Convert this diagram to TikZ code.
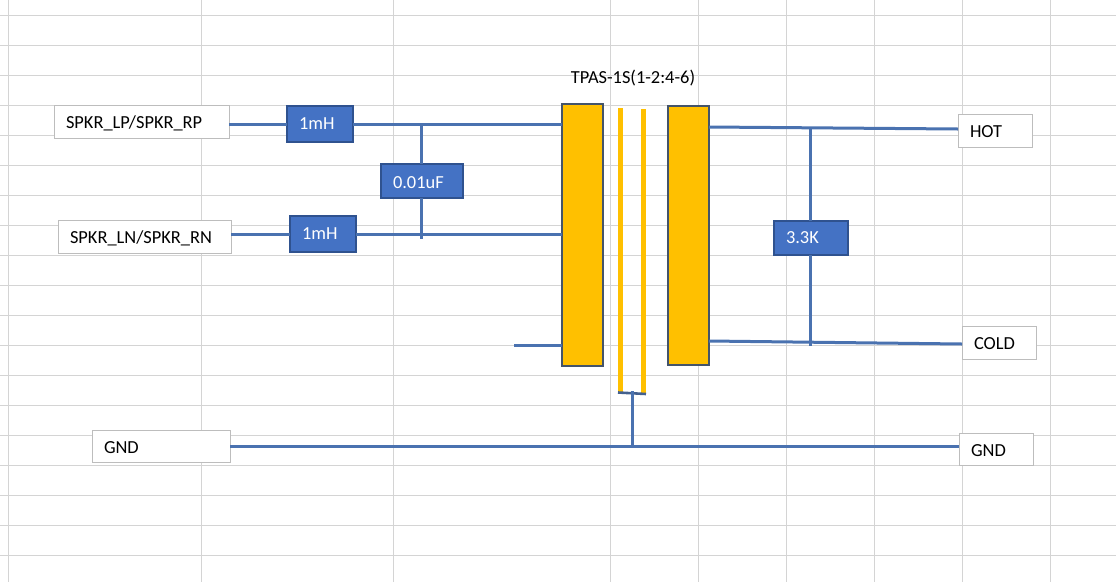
\documentclass[tikz,border=0pt]{standalone}
\usepackage{fontspec}
\setmainfont{Carlito}
\newcommand{\dn}[1]{\raisebox{0pt}[\dimexpr\height+3pt\relax][\depth]{#1}}
\tikzset{
  gridline/.style={draw=gridgray,line width=1pt},
  wire/.style={draw=wireblue,line width=3pt},
  sigbox/.style={draw=boxgray,line width=1pt,fill=white,text=black,anchor=west,inner xsep=12pt,inner ysep=0pt,outer sep=0pt,align=left,font=\fontsize{18.4}{20}\selectfont},
  valbox/.style={draw=bluedark,line width=2pt,fill=blueface,text=white,anchor=west,inner xsep=12pt,inner ysep=0pt,outer sep=0pt,align=left,font=\fontsize{18.4}{20}\selectfont},
  coil/.style={draw=coilborder,line width=2.2pt,fill=coilyellow,anchor=north west,inner sep=0pt,outer sep=0pt},
  corebar/.style={draw=coilyellow,line width=5pt},
  barfoot/.style={draw=wiredark,line width=2.6pt},
}
\definecolor{gridgray}{HTML}{D4D4D4}
\definecolor{wireblue}{HTML}{4A72B0}
\definecolor{wiredark}{HTML}{44618F}
\definecolor{boxgray}{HTML}{BDBDBD}
\definecolor{bluedark}{HTML}{2F528F}
\definecolor{blueface}{HTML}{4472C4}
\definecolor{coilyellow}{HTML}{FFC000}
\definecolor{coilborder}{HTML}{44546A}
\begin{document}
\begin{tikzpicture}[x=1pt,y=-1pt]
\useasboundingbox (0,0) rectangle (1116,582);
\fill[white] (0,0) rectangle (1116,582);
% spreadsheet grid
\foreach \gy in {15,45,...,555} \draw[gridline] (0,\gy) -- (1116,\gy);
\foreach \gx in {8,201,393,610,698,786,874,962,1050} \draw[gridline] (\gx,0) -- (\gx,582);
% signal boxes
\node[sigbox,text width=151pt,minimum height=33pt] (lp) at (54,121.5) {\dn{SPKR\_LP/SPKR\_RP}};
\node[sigbox,text width=149pt,minimum height=33pt] (ln) at (58,236.5) {\dn{SPKR\_LN/SPKR\_RN}};
\node[sigbox,text width=114pt,minimum height=32pt] (gndl) at (92,446) {\dn{GND}};
\node[sigbox,text width=50pt,minimum height=33pt] (hot) at (958,130.5) {\dn{HOT}};
\node[sigbox,text width=50pt,minimum height=33pt] (cold) at (962,342.5) {\dn{COLD}};
\node[sigbox,text width=50pt,minimum height=32pt] (gndr) at (959,449) {\dn{GND}};
% coils
\node[coil,minimum width=41pt,minimum height=262pt] (prim) at (562,104) {};
\node[coil,minimum width=41pt,minimum height=259pt] (sec) at (668,106) {};
% value boxes
\node[valbox,text width=42pt,minimum height=36pt] (l1) at (287,124) {1mH};
\node[valbox,text width=42pt,minimum height=36pt] (l2) at (290,234) {1mH};
\node[valbox,text width=58pt,minimum height=34pt] (cap) at (381,181) {\dn{0.01uF}};
\node[valbox,text width=50pt,minimum height=34pt] (res) at (774,238) {3.3K};
% core bars
\coordinate (b1t) at (620.5,108);
\coordinate (b1b) at (620.5,392);
\coordinate (b2t) at (643.5,109);
\coordinate (b2b) at (643.5,394);
\draw[corebar] (b1t) -- (b1b);
\draw[corebar] (b2t) -- (b2b);
\draw[barfoot] (618,392.5) coordinate (ftl) -- (646,394) coordinate (ftr);
% junctions and free ends
\coordinate (j1) at (421,124);
\coordinate (j2) at (421,239);
\coordinate (j3) at (810.5,129);
\coordinate (j4) at (810.5,346);
\coordinate (ct) at (514,345);
\coordinate (gj) at (632,446);
\coordinate (ft) at (632,391);
\coordinate (hi) at (958,129);
\coordinate (ho) at (709,127);
\coordinate (ci) at (962,344);
\coordinate (co) at (709,341);
% connectors
\draw[wire] (lp.east |- l1.west) -- (l1.west);
\draw[wire] (l1.east) -- (prim.west |- l1.east);
\draw[wire] (ln.east |- l2.west) -- (l2.west);
\draw[wire] (l2.east) -- (prim.west |- l2.east);
\draw[wire] (j1) -- (cap.north -| j1);
\draw[wire] (cap.south -| j1) -- (j2);
\draw[wire] (ct) -- (prim.west |- ct);
\draw[wire] (ho) -- (hi);
\draw[wire] (co) -- (ci);
\draw[wire] (j3) -- (res.north -| j3);
\draw[wire] (res.south -| j3) -- (j4);
\draw[wire] (gndl.east) -- (gndr.west |- gndl.east);
\draw[wire] (ft) -- (gj);
% title
\node[text=black,font=\fontsize{18.4}{20}\selectfont,inner sep=0pt] (title) at (633,78) {TPAS-1S(1-2:4-6)};
\end{tikzpicture}
\end{document}
